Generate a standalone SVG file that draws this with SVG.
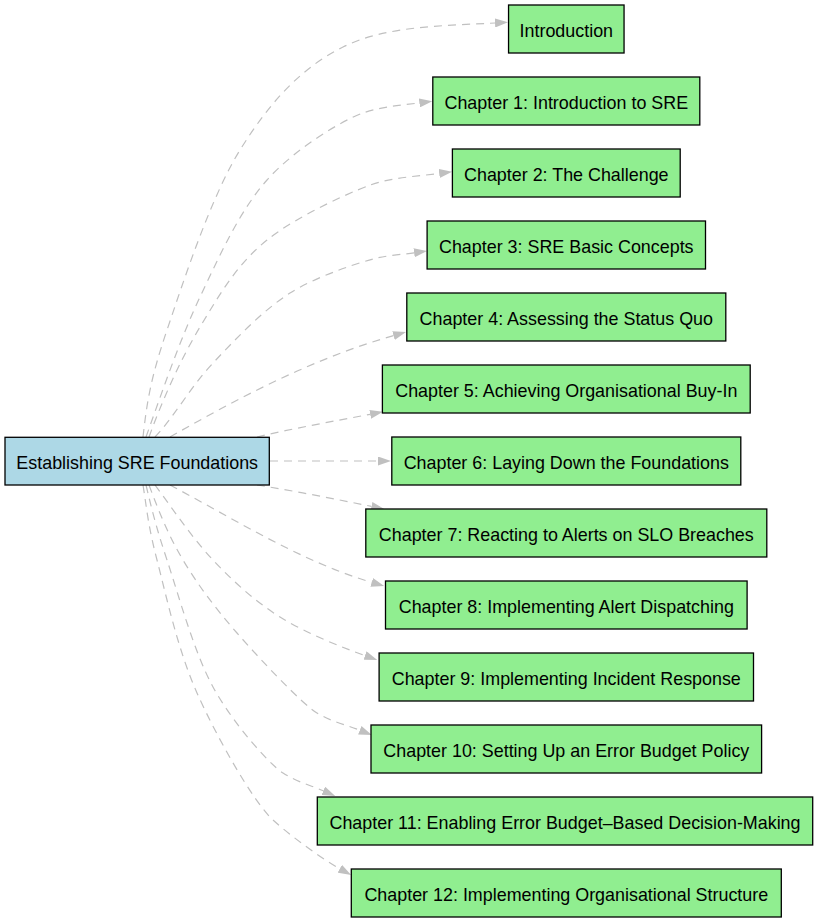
<svg xmlns="http://www.w3.org/2000/svg" width="820" height="923" viewBox="0 0 820 923">
<style>
.n rect{fill:#90ee90;stroke:#000;stroke-width:1.3}
.root rect{fill:#add8e6;stroke:#000;stroke-width:1.3}
text{font-family:"Liberation Sans",Arial,sans-serif;font-size:17.9px;fill:#000;text-anchor:middle}
.e path{fill:none;stroke:#c0c0c0;stroke-width:1.2;stroke-dasharray:8,6;marker-end:url(#ah)}
</style>
<defs>
<marker id="ah" markerUnits="userSpaceOnUse" viewBox="0 0 13 9" markerWidth="13" markerHeight="9" refX="0" refY="4.5" orient="auto">
<path d="M0,0 L13,4.5 L0,9 z" fill="#c0c0c0" stroke="none"/>
</marker>
</defs>
<rect x="0" y="0" width="820" height="923" fill="#fff"/>
<g id="edges" class="e">
<path d="M143,437 C147,401.3 150.8,377.8 167,330 C183.2,282.2 210.7,197.2 240,150 C269.3,102.8 300.5,68.2 343,47 C385.5,25.8 443.7,25.7 495,23"/>
<path d="M146,437 C162.7,390.3 179.8,339.8 200,297 C220.2,254.2 239.8,210.7 267,180 C294.2,149.3 343,119.7 363,113 C383,106.3 400.6,105.4 419.4,102.9"/>
<path d="M149,437 C162.3,400.3 180.3,359.8 200,327 C219.7,294.2 237,264.2 267,240 C297,215.8 360,187 380,182 C400,177 419.5,176 439.2,173.5"/>
<path d="M155,437 C175,415.7 190.5,387 213,363 C235.5,339 262.7,310.5 290,293 C317.3,275.5 365,260.7 377,258 C389,255.3 402.1,254.5 414.1,252.8"/>
<path d="M170,437 C240,397 314.5,358 393.5,335.6"/>
<path d="M257,437 C295,428 335,421 370.2,414.3"/>
<path d="M270,461 L378,461"/>
<path d="M257,485 C295,491 335,499 371.5,506.4"/>
<path d="M170,485 C236,520 300,561 371.7,582.4"/>
<path d="M155,485 C173.7,510.3 192.2,538 213,560 C233.8,582 254.7,601.1 280,617 C305.3,632.9 340,646.6 365,655.6"/>
<path d="M149,485 C159,511.7 168.3,535.3 183,560 C197.7,584.7 214.7,607.5 237,633 C259.3,658.5 302,704 317,713 C332,722 345.8,724.6 359.8,730.2"/>
<path d="M146,485 C152,510 155.8,526.3 167,560 C178.2,593.7 193.7,651.5 213,687 C232.3,722.5 269,764 283,773 C297,782 310,785 323.3,790.8"/>
<path d="M143,485 C147,510 148,525.3 157,560 C166,594.7 177.7,649.7 197,693 C216.3,736.3 253,801.7 273,820 C293,838.3 326.7,861.6 339.8,868.8"/>
</g>
<g id="root" class="root"><rect x="5" y="437.3" width="264.3" height="47.7"/><text x="137.2" y="469">Establishing SRE Foundations</text></g>
<g id="intro" class="n"><rect x="508.55" y="5" width="115.5" height="48"/><text x="566.3" y="37">Introduction</text></g>
<g id="ch1" class="n"><rect x="432.8" y="77" width="267" height="48"/><text x="566.3" y="109">Chapter 1: Introduction to SRE</text></g>
<g id="ch2" class="n"><rect x="452.4" y="149" width="227.8" height="48"/><text x="566.3" y="181">Chapter 2: The Challenge</text></g>
<g id="ch3" class="n"><rect x="427.1" y="221" width="278.4" height="48"/><text x="566.3" y="253">Chapter 3: SRE Basic Concepts</text></g>
<g id="ch4" class="n"><rect x="406.8" y="293" width="319" height="48"/><text x="566.3" y="325">Chapter 4: Assessing the Status Quo</text></g>
<g id="ch5" class="n"><rect x="382.4" y="365" width="367.8" height="48"/><text x="566.3" y="397">Chapter 5: Achieving Organisational Buy-In</text></g>
<g id="ch6" class="n"><rect x="391.8" y="437" width="349" height="48"/><text x="566.3" y="469">Chapter 6: Laying Down the Foundations</text></g>
<g id="ch7" class="n"><rect x="365.8" y="509" width="401" height="48"/><text x="566.3" y="541">Chapter 7: Reacting to Alerts on SLO Breaches</text></g>
<g id="ch8" class="n"><rect x="385.5" y="581" width="361.6" height="48"/><text x="566.3" y="613">Chapter 8: Implementing Alert Dispatching</text></g>
<g id="ch9" class="n"><rect x="379.1" y="653" width="374.4" height="48"/><text x="566.3" y="685">Chapter 9: Implementing Incident Response</text></g>
<g id="ch10" class="n"><rect x="371" y="725" width="390.6" height="48"/><text x="566.3" y="757">Chapter 10: Setting Up an Error Budget Policy</text></g>
<g id="ch11" class="n"><rect x="317.3" y="797" width="495.4" height="48"/><text x="565" y="829">Chapter 11: Enabling Error Budget–Based Decision-Making</text></g>
<g id="ch12" class="n"><rect x="351.3" y="869" width="430" height="48"/><text x="566.3" y="901">Chapter 12: Implementing Organisational Structure</text></g>
</svg>
